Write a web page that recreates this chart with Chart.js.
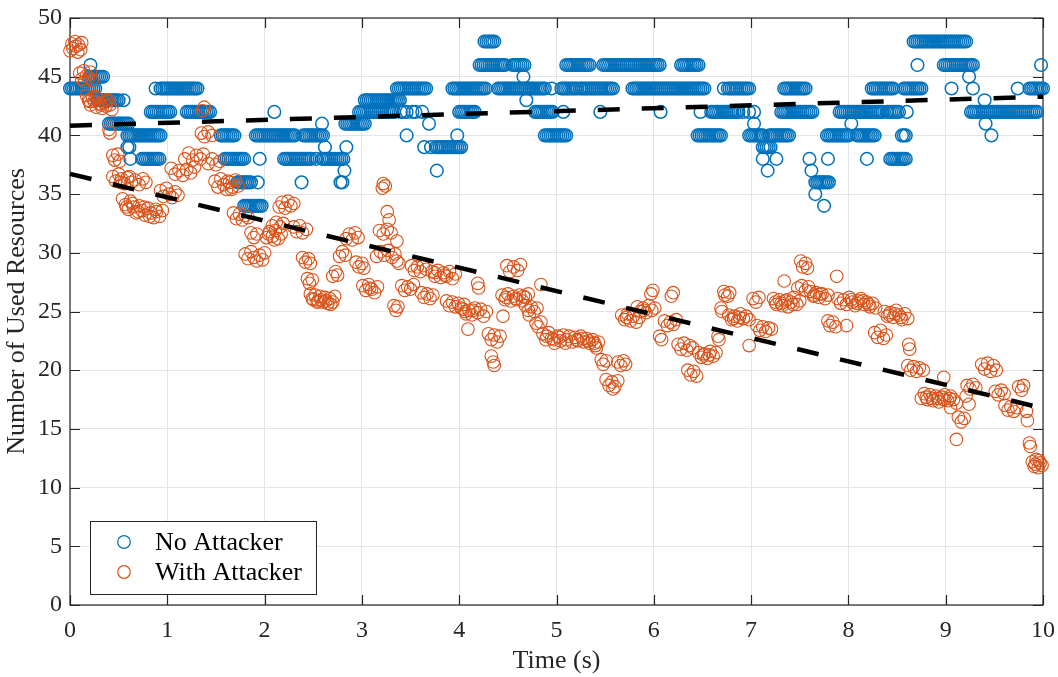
<!DOCTYPE html>
<html>
<head>
<meta charset="utf-8">
<title>Used resources over time</title>
<script src="https://cdn.jsdelivr.net/npm/chart.js@4.4.1/dist/chart.umd.min.js"></script>
<style>
  html, body { margin: 0; padding: 0; background: #ffffff; }
  #wrap { width: 1058px; height: 677px; }
</style>
</head>
<body>
<div id="wrap"><canvas id="chart" width="1058" height="677"></canvas></div>
<script>
// ---- No Attacker: sample times (hundredths of a second) at each resource count ----
const naAt34 = [179,181,183,185,187,189,191,193,195,197,775];
const naAt35 = [766];
const naAt36 = [172,174,176,178,180,182,184,186,193,238,278,280,766,768,770,772,774,776,778,780];
const naAt37 = [282,377,717,762];
const naAt38 = [62,74,76,78,80,82,84,86,88,90,92,159,161,163,165,167,169,171,173,175,177,179,195,220,222,224,226,228,230,232,234,236,238,240,242,244,246,248,253,259,261,263,265,267,269,271,273,275,277,279,281,712,726,760,779,819,843,845,847,849,851,853,855,857,859];
const naAt39 = [59,61,262,284,364,371,376,378,380,382,384,386,388,390,392,394,396,398,400,402,712,714,716,718,720];
const naAt40 = [59,61,63,65,67,69,71,73,75,77,79,81,83,85,87,89,91,93,155,157,159,161,163,165,167,169,191,193,195,197,199,201,203,205,207,209,211,213,215,217,219,221,223,225,227,229,231,240,242,244,246,248,250,252,254,256,258,260,346,398,488,490,492,494,496,498,500,502,504,506,508,510,645,647,649,651,653,655,657,659,661,663,665,667,669,698,700,702,704,706,708,710,712,719,721,723,725,727,729,731,733,735,737,739,778,780,782,784,786,788,790,792,794,796,798,800,809,811,813,815,817,819,821,823,825,827,855,857,859,947];
const naAt41 = [40,42,44,46,48,50,52,54,56,58,60,259,283,285,287,289,291,293,295,297,299,301,303,369,703,803,941];
const naAt42 = [83,85,87,89,91,93,95,97,99,101,103,120,122,124,126,128,130,132,134,136,138,140,142,144,210,297,299,301,303,305,307,309,311,313,315,317,319,321,323,325,327,329,331,333,340,343,346,352,355,362,400,402,404,406,408,410,412,414,416,478,480,482,484,486,488,490,492,494,496,507,545,607,648,659,661,663,665,667,669,671,673,675,677,679,681,683,685,687,692,698,703,731,733,735,737,739,741,743,745,747,749,751,753,755,757,759,761,763,791,793,795,797,799,801,803,805,807,809,811,813,815,817,819,821,823,825,827,829,831,833,835,840,842,844,846,848,850,852,860,926,928,930,932,934,936,938,940,942,944,946,948,950,952,954,956,958,960,962,964,966,968,970,972,974,976,978,980,982,984,986,988,990,992,994];
const naAt43 = [28,30,32,34,36,38,40,42,44,46,48,50,55,303,305,307,309,311,313,315,317,319,321,323,325,327,329,331,333,335,337,339,469,940];
const naAt44 = [0,2,4,6,8,10,12,14,16,18,20,22,24,26,88,93,95,97,99,101,103,105,107,109,111,113,115,117,119,121,123,125,127,129,131,336,338,340,342,344,346,348,350,352,354,356,358,360,362,364,366,393,395,397,399,401,403,405,407,409,411,413,415,417,419,421,423,425,427,440,442,444,446,448,450,452,454,456,458,460,462,464,466,468,470,472,474,476,478,480,482,484,486,488,495,505,507,509,511,513,515,517,519,521,524,526,528,530,532,534,536,538,540,542,544,546,548,550,552,554,556,558,578,580,582,584,586,588,590,592,594,596,598,600,602,604,606,608,610,612,614,616,618,620,622,624,626,628,630,632,634,636,638,640,642,644,646,648,650,652,672,676,678,680,682,684,686,688,690,692,694,696,698,734,736,738,740,742,744,746,748,750,752,754,756,824,826,828,830,832,834,836,838,840,842,844,846,857,859,861,863,865,867,869,871,873,875,906,928,974,986,988,990,992,994,996,998,1000];
const naAt45 = [20,22,24,26,28,30,32,34,466,924];
const naAt46 = [21,421,423,425,427,429,431,433,435,437,439,441,443,445,447,455,457,459,461,463,465,467,510,512,514,516,518,520,522,524,526,528,530,532,534,548,550,552,554,556,558,560,562,564,566,568,570,572,574,576,578,580,582,584,586,588,590,592,594,596,598,600,602,604,606,628,630,632,634,636,638,640,642,644,646,871,898,900,902,904,906,908,910,912,914,916,918,920,922,924,926,928,998];
const naAt48 = [426,428,430,432,434,436,867,869,871,873,875,877,879,881,883,885,887,889,891,893,895,897,899,901,903,905,907,909,911,913,915,917,919,921];

const noAttackerLevels = [
  [34, naAt34], [35, naAt35], [36, naAt36], [37, naAt37], [38, naAt38],
  [39, naAt39], [40, naAt40], [41, naAt41], [42, naAt42], [43, naAt43],
  [44, naAt44], [45, naAt45], [46, naAt46], [48, naAt48]
];

// ---- With Attacker: [time (s), used resources] ----
const waFirst = [
  [0.00,47.2],[0.02,47.8],[0.03,47.4],[0.05,48.0],[0.06,47.6],[0.08,47.1],[0.09,47.7],[0.11,47.3],[0.12,47.9],
  [0.10,45.3],[0.12,44.8],[0.14,45.5],[0.15,44.6],[0.17,45.1],[0.19,44.9],[0.21,45.4],[0.23,44.7],
  [0.17,43.4],[0.19,43.0],[0.21,42.6],[0.23,43.2],[0.25,42.9],[0.27,42.4],[0.29,43.1],[0.31,42.7],[0.33,42.3],[0.35,42.8],[0.37,42.5],[0.39,43.0],[0.41,42.6],[0.43,42.2],
  [0.20,42.9],[0.26,43.3],[0.32,42.6],[0.38,42.9],
  [0.40,40.5],[0.41,40.2],
  [0.44,38.3],[0.46,37.9],[0.49,38.4],[0.51,37.8],
  [0.44,36.5],[0.47,36.1],[0.50,36.7],[0.53,36.3],[0.56,35.9],[0.59,36.4],[0.63,36.0],[0.67,36.2],[0.71,35.8],[0.75,36.3],[0.78,36.0],
  [0.52,36.0],[0.61,36.5],
  [0.54,34.6],[0.57,34.1],[0.60,33.7],[0.62,34.4],[0.65,33.9],[0.68,33.4],[0.71,34.0],[0.74,33.6],[0.77,33.2],[0.80,33.8],[0.83,33.4],[0.86,33.0],[0.89,33.5],[0.92,33.1],[0.95,33.6],
  [0.58,33.9],[0.64,34.2],[0.70,33.5],[0.76,33.9],[0.82,33.1],[0.88,33.7],
  [0.93,35.3],[0.96,34.8],[0.99,35.5],[1.02,35.0],[1.05,34.7],[1.08,35.2],[1.11,34.9],
  [1.04,37.2],[1.08,36.7],[1.12,37.0],[1.16,36.6],[1.20,37.1],[1.24,36.8],[1.28,37.3],
  [1.18,38.0],[1.22,38.5],[1.26,37.9],[1.30,38.3],[1.34,38.0],[1.37,38.4],
  [1.35,40.2],[1.38,39.9],[1.42,40.3],[1.46,40.0],[1.36,42.1],[1.38,42.4],
  [1.42,37.6],[1.46,38.0],[1.50,37.5],[1.54,37.8],
  [1.49,36.1],[1.52,35.6],[1.55,36.3],[1.58,35.8],[1.61,35.4],[1.64,36.0],[1.67,35.6],[1.70,36.2],[1.73,35.7],
  [1.62,36.1],[1.66,35.4],
  [1.68,33.4],[1.71,32.9],[1.74,33.3],[1.77,32.8],[1.80,33.2],[1.83,33.0],
  [1.86,31.7],[1.89,31.3],[1.92,31.6],
  [1.80,29.9],[1.83,29.5],[1.86,30.1],[1.89,29.6],[1.92,29.3],[1.95,29.8],[1.98,29.4],[2.00,30.0]
];
const waSecond = [
  [2.02,31.3],[2.05,31.8],[2.08,31.4],[2.11,31.9],[2.14,31.2],[2.17,31.6],[2.04,31.6],[2.10,31.1],
  [2.08,32.3],[2.12,32.6],[2.16,32.2],[2.19,32.5],
  [2.15,33.9],[2.18,34.3],[2.21,33.8],[2.24,34.4],[2.27,34.0],[2.30,34.2],
  [2.30,32.2],[2.33,31.8],[2.36,32.3],[2.39,31.7],[2.43,32.0],
  [2.39,29.6],[2.42,29.2],[2.45,29.5],[2.47,29.1],
  [2.44,27.8],[2.46,27.4],[2.49,27.7],
  [2.47,26.5],[2.50,26.0],[2.52,26.4],[2.55,25.9],[2.57,26.3],[2.60,25.8],[2.62,26.2],[2.65,25.7],[2.67,26.1],[2.70,25.8],[2.72,26.3],
  [2.49,26.1],[2.54,25.8],[2.58,26.0],[2.63,25.9],[2.68,25.6],
  [2.70,28.0],[2.73,28.4],[2.75,28.1],
  [2.77,29.7],[2.80,30.1],[2.83,29.8],
  [2.84,31.2],[2.87,31.6],[2.90,31.1],[2.93,31.7],[2.96,31.3],
  [2.94,29.2],[2.97,28.8],[3.00,29.1],[3.02,28.7],
  [3.01,27.2],[3.04,26.8],[3.07,27.3],[3.10,26.9],[3.13,26.6],[3.16,27.1],[3.08,27.0],
  [3.15,29.7],[3.19,30.1],[3.23,29.8],[3.27,30.2],[3.31,29.6],[3.34,29.9],
  [3.18,31.9],[3.22,31.6],[3.26,32.0],[3.30,31.7],[3.26,33.5],[3.28,32.8],[3.21,35.5],[3.22,35.9],[3.24,35.7],
  [3.33,25.5],[3.35,25.1],[3.37,25.4],
  [3.41,27.2],[3.44,26.8],[3.47,27.1],[3.50,26.9],[3.53,27.3],
  [3.36,31.0],[3.36,29.3],[3.38,29.1],
  [3.51,28.9],[3.54,28.5],[3.57,28.8],[3.60,28.4],[3.63,28.9],[3.66,28.6],
  [3.61,26.6],[3.64,26.2],[3.67,26.5],[3.70,26.1],[3.73,26.4],
  [3.72,28.4],[3.75,28.0],[3.78,28.5],[3.81,27.9],[3.84,28.3],[3.87,28.0],[3.90,28.4],[3.93,27.8],[3.96,28.2],
  [3.75,28.3],[3.85,28.1],
  [3.87,25.9],[3.90,25.5],[3.93,25.8],[3.96,25.4],[3.99,25.7]
];
const waThird = [
  [4.02,25.3],[4.05,25.6],
  [4.04,25.2],[4.07,24.8],[4.10,25.1],[4.13,24.7],[4.16,25.3],[4.19,24.9],[4.22,25.2],[4.25,24.6],[4.28,25.0],
  [4.06,25.0],[4.14,25.1],
  [4.19,27.4],[4.20,27.0],[4.09,23.5],
  [4.30,23.1],[4.33,22.6],[4.36,23.0],[4.39,22.4],[4.42,22.9],
  [4.33,21.2],[4.35,20.7],[4.36,20.4],[4.45,24.6],
  [4.49,28.9],[4.52,28.4],[4.56,28.8],[4.60,28.5],[4.63,29.0],
  [4.44,26.4],[4.47,26.0],[4.50,26.5],[4.53,25.9],[4.56,26.3],[4.59,26.0],[4.62,26.4],[4.65,25.9],[4.68,26.2],[4.71,26.5],
  [4.48,26.2],[4.58,26.1],[4.66,26.3],
  [4.68,25.5],[4.71,25.1],[4.74,25.4],[4.77,25.0],[4.80,25.3],
  [4.84,27.3],[4.79,24.0],[4.81,23.7],[4.84,24.1],[4.72,24.7],
  [4.86,23.1],[4.89,22.6],[4.92,23.2],[4.95,22.7],[4.98,22.3],[5.01,22.9],[5.04,22.5],[5.07,23.0],[5.10,22.6],[5.13,22.9],[5.16,22.4],
  [4.90,22.9],[4.97,22.6],[5.03,22.8],[5.09,22.3],
  [5.19,22.8],[5.22,22.5],[5.25,22.9],[5.28,22.4],[5.31,22.7],[5.34,22.3],[5.37,22.6],[5.40,22.1],[5.43,22.4],
  [5.21,22.6],[5.27,22.7],[5.33,22.5],[5.39,22.3],
  [5.41,21.9],[5.46,20.9],[5.48,20.5],[5.51,20.8],
  [5.51,19.2],[5.54,18.7],[5.57,19.0],[5.60,18.6],[5.63,19.1],[5.58,18.4],
  [5.63,20.7],[5.66,20.4],[5.69,20.8],[5.71,20.5],
  [5.67,24.7],[5.70,24.3],[5.73,24.8],[5.76,24.2],[5.79,24.6],[5.82,24.1],[5.85,24.5],[5.72,24.5],
  [5.83,25.4],[5.86,25.0],[5.89,25.3],[5.92,24.9],[5.95,25.5],[5.98,25.1],[6.01,25.3],[5.90,25.1],
  [5.97,26.5],[5.99,26.8]
];
const waFourth = [
  [6.06,22.9],[6.08,22.6],
  [6.11,24.2],[6.14,23.8],[6.17,24.1],[6.20,23.9],[6.23,24.3],
  [6.18,26.3],[6.20,26.6],
  [6.25,22.2],[6.28,21.8],[6.31,22.3],[6.34,21.7],[6.37,22.1],[6.40,21.9],
  [6.35,20.0],[6.38,19.6],[6.41,19.9],[6.44,19.5],
  [6.46,21.5],[6.49,21.1],[6.52,21.4],[6.55,21.0],[6.58,21.6],[6.61,21.2],[6.64,21.5],[6.51,21.3],[6.57,21.3],
  [6.66,22.9],[6.67,22.6],[6.69,25.3],[6.70,25.0],[6.72,26.7],[6.73,26.4],
  [6.77,24.7],[6.80,24.3],[6.83,24.6],[6.86,24.2],[6.89,24.8],[6.92,24.4],[6.95,24.6],[6.98,24.3],[6.82,24.4],[6.88,24.5],
  [6.78,26.6],[6.76,26.3],[6.98,22.1],
  [7.02,26.1],[7.05,25.8],[7.08,26.2],
  [7.06,23.8],[7.09,23.4],[7.12,23.7],[7.15,23.3],[7.18,23.6],[7.21,23.5],
  [7.23,26.1],[7.26,25.6],[7.29,26.0],[7.32,25.5],[7.35,25.9],[7.38,25.4],[7.41,25.8],[7.44,26.2],[7.47,25.6],[7.50,25.9],
  [7.25,25.8],[7.31,25.7],[7.37,26.0],[7.43,25.6],
  [7.34,27.6],
  [7.51,29.3],[7.53,28.8],[7.56,29.1],[7.58,28.7],
  [7.48,27.0],[7.52,27.2],[7.56,26.8],[7.59,27.1],
  [7.61,26.7],[7.64,26.3],[7.67,26.6],[7.70,26.2],[7.73,26.5],[7.76,26.1],[7.79,26.4],[7.65,26.4],[7.71,26.5],
  [7.88,28.0],
  [7.79,24.2],[7.81,23.8],[7.84,24.1],[7.87,23.7],
  [7.89,26.1],[7.92,25.7],[7.95,26.0],[7.98,25.6]
];
const waFifth = [
  [8.01,26.2],[8.04,25.8],[8.07,25.5],[8.10,25.9],[8.13,26.1],[8.16,25.6],[8.19,25.8],[8.22,25.4],[8.25,25.7],[8.28,25.3],
  [8.03,26.0],[8.09,25.7],[8.15,25.9],[8.21,25.6],
  [7.98,23.8],
  [8.27,23.2],[8.30,22.8],[8.33,23.4],[8.36,22.7],[8.39,23.0],
  [8.37,25.0],[8.40,24.6],[8.43,24.9],[8.46,24.5],[8.49,25.1],[8.52,24.7],[8.55,24.3],[8.58,24.8],[8.61,24.4],
  [8.42,24.7],[8.48,24.8],[8.54,24.5],
  [8.62,22.2],[8.63,21.8],
  [8.61,20.4],[8.64,20.0],[8.67,20.3],[8.70,19.9],[8.73,20.2],[8.77,20.0],
  [8.75,17.6],[8.78,18.0],[8.81,17.5],[8.84,17.9],[8.87,17.4],[8.90,17.8],[8.93,17.3],[8.96,17.7],[8.99,17.9],[9.02,17.4],[9.05,17.8],[9.08,17.5],[9.11,17.2],
  [8.80,17.7],[8.86,17.6],[8.92,17.6],[8.98,17.5],[9.04,17.6],
  [9.05,16.8],[9.13,16.0],[9.16,15.6],[9.19,15.9],[9.11,14.1],
  [8.98,19.4],
  [9.22,18.7],[9.25,18.4],[9.28,18.8],[9.31,18.5],[9.21,17.8],[9.24,17.1],
  [9.37,20.5],[9.40,20.1],[9.43,20.6],[9.46,19.9],[9.49,20.4],[9.52,20.0],
  [9.51,18.2],[9.54,17.9],[9.57,18.3],[9.60,18.0],
  [9.61,17.0],[9.64,16.6],[9.67,16.9],[9.70,16.5],[9.73,16.8],
  [9.75,18.6],[9.78,18.3],[9.80,18.7],
  [9.83,16.5],[9.84,15.7],[9.86,13.8],[9.87,13.5],
  [9.89,12.2],[9.91,11.8],[9.93,12.4],[9.95,11.7],[9.97,12.1],[9.99,11.9],[9.92,12.0],[9.96,12.3]
];

// ---- Linear trend lines ----
const trendTimes = [0, 10];
const noAttackerTrend = [40.83, 43.30];
const withAttackerTrend = [36.72, 16.76];

// ---- Axis ticks ----
const timeTicks = [0,1,2,3,4,5,6,7,8,9,10];
const countTicks = [0,5,10,15,20,25,30,35,40,45,50];

const BLUE = '#0072BD';
const ORANGE = '#D95319';
const AXIS = '#262626';
const SERIF = '"Liberation Serif", "Times New Roman", Times, serif';

const noAttackerPoints = [];
noAttackerLevels.forEach(([level, times]) => {
  times.forEach(t => noAttackerPoints.push({ x: t / 100, y: level }));
});
noAttackerPoints.sort((a, b) => a.x - b.x);

const withAttackerPoints = [...waFirst, ...waSecond, ...waThird, ...waFourth, ...waFifth]
  .map(([t, v]) => ({ x: t, y: v }));

const trendLine = (values) => trendTimes.map((t, i) => ({ x: t, y: values[i] }));

// Box outline and inward tick marks on all four sides
const axesFrame = {
  id: 'axesFrame',
  beforeDatasetsDraw(chart) {
    const { ctx, chartArea: a, scales: { x, y } } = chart;
    const len = 10;
    ctx.save();
    ctx.strokeStyle = AXIS;
    ctx.lineWidth = 1.2;
    ctx.beginPath();
    timeTicks.forEach(v => {
      const px = Math.round(x.getPixelForValue(v)) + 0.5;
      ctx.moveTo(px, a.bottom); ctx.lineTo(px, a.bottom - len);
      ctx.moveTo(px, a.top); ctx.lineTo(px, a.top + len);
    });
    countTicks.forEach(v => {
      const py = Math.round(y.getPixelForValue(v)) + 0.5;
      ctx.moveTo(a.left, py); ctx.lineTo(a.left + len, py);
      ctx.moveTo(a.right, py); ctx.lineTo(a.right - len, py);
    });
    ctx.stroke();
    ctx.strokeRect(a.left, a.top, a.right - a.left, a.bottom - a.top);
    ctx.restore();
  }
};

// Legend box in the lower-left corner of the plot
const cornerLegend = {
  id: 'cornerLegend',
  afterDraw(chart) {
    const { ctx } = chart;
    const box = { x: 90, y: 521, w: 226, h: 73 };
    const entries = chart.data.datasets.filter(d => d.inLegend);
    ctx.save();
    ctx.fillStyle = '#ffffff';
    ctx.fillRect(box.x, box.y, box.w, box.h);
    ctx.strokeStyle = AXIS;
    ctx.lineWidth = 1;
    ctx.strokeRect(box.x + 0.5, box.y + 0.5, box.w, box.h);
    ctx.font = '26px ' + SERIF;
    ctx.textBaseline = 'middle';
    ctx.textAlign = 'left';
    entries.forEach((d, i) => {
      const cy = box.y + 21 + i * 30;
      ctx.beginPath();
      ctx.strokeStyle = d.borderColor;
      ctx.lineWidth = 1.2;
      ctx.arc(box.x + 34, cy, d.pointRadius, 0, Math.PI * 2);
      ctx.stroke();
      ctx.fillStyle = '#000000';
      ctx.fillText(d.label, box.x + 65, cy + 1);
    });
    ctx.restore();
  }
};

new Chart(document.getElementById('chart'), {
  type: 'scatter',
  data: {
    datasets: [
      {
        type: 'line', data: trendLine(noAttackerTrend), borderColor: '#000000', borderWidth: 4.5,
        borderDash: [22, 22], pointRadius: 0, fill: false, order: 0, clip: false
      },
      {
        type: 'line', data: trendLine(withAttackerTrend), borderColor: '#000000', borderWidth: 4.5,
        borderDash: [22, 22], pointRadius: 0, fill: false, order: 0, clip: false
      },
      {
        label: 'No Attacker', inLegend: true, data: noAttackerPoints,
        borderColor: BLUE, backgroundColor: 'rgba(0,0,0,0)', borderWidth: 1.5,
        pointRadius: 6.3, pointHoverRadius: 6.3, order: 2, clip: false
      },
      {
        label: 'With Attacker', inLegend: true, data: withAttackerPoints,
        borderColor: ORANGE, backgroundColor: 'rgba(0,0,0,0)', borderWidth: 1.1,
        pointRadius: 6.3, pointHoverRadius: 6.3, order: 1, clip: false
      }
    ]
  },
  options: {
    responsive: false,
    animation: false,
    events: [],
    layout: { padding: { top: 18, right: 15, left: 0, bottom: 0 } },
    plugins: { legend: { display: false }, tooltip: { enabled: false } },
    scales: {
      x: {
        type: 'linear', min: 0, max: 10,
        afterBuildTicks(s) { s.ticks = timeTicks.map(v => ({ value: v })); },
        ticks: { font: { family: SERIF, size: 24 }, color: AXIS, padding: 11, maxRotation: 0 },
        grid: { color: '#e4e4e4', lineWidth: 1, drawTicks: false },
        border: { display: false },
        title: {
          display: true, text: 'Time (s)', color: AXIS,
          font: { family: SERIF, size: 26, lineHeight: 1.2 }, padding: { top: 0, bottom: 0 }
        },
        afterFit(s) { s.height = 72; s.paddingLeft = 0; s.paddingRight = 0; }
      },
      y: {
        type: 'linear', min: 0, max: 50,
        afterBuildTicks(s) { s.ticks = countTicks.map(v => ({ value: v })); },
        ticks: { font: { family: SERIF, size: 24 }, color: AXIS, padding: 8 },
        grid: { color: '#e4e4e4', lineWidth: 1, drawTicks: false },
        border: { display: false },
        title: {
          display: true, text: 'Number of Used Resources', color: AXIS,
          font: { family: SERIF, size: 26, lineHeight: 1.2 }, padding: { top: 2, bottom: 0 }
        },
        afterFit(s) { s.width = 70; s.paddingTop = 0; s.paddingBottom = 0; }
      }
    }
  },
  plugins: [axesFrame, cornerLegend]
});
</script>
</body>
</html>
